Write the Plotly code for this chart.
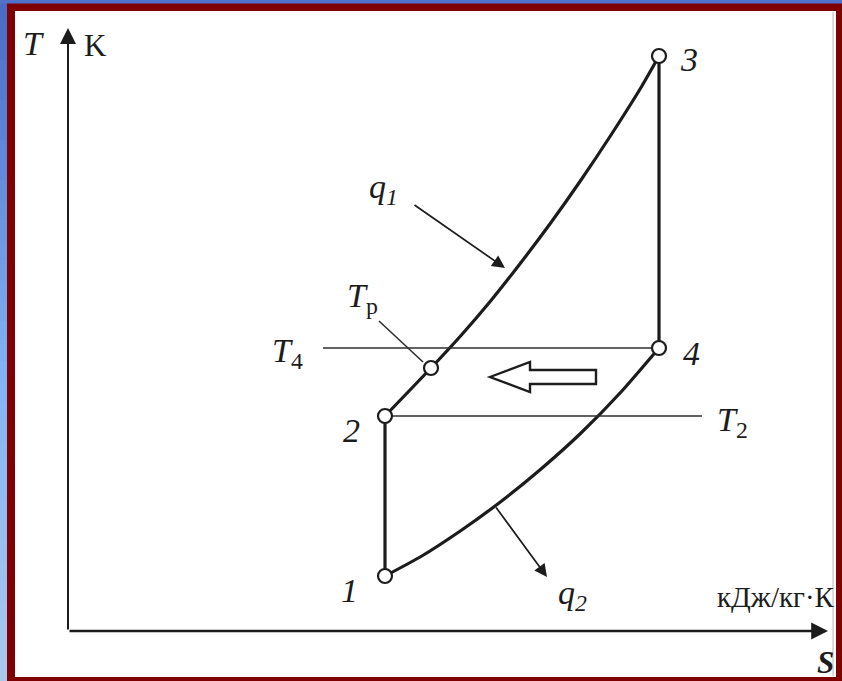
import plotly.graph_objects as go

# ---- figure geometry (pixels) ----
W, H = 842, 681
PLOT_L, PLOT_R, PLOT_T, PLOT_B = 68, 828, 28, 631

# ---- axis ranges: entropy s, kJ/(kg·K) and temperature T, K (schematic) ----
s_range = [5.415, 9.215]
T_range = [190, 1396]

# ---- cycle state points ----
state_names = ["1", "2", "Tp", "3", "4"]
state_s = [7.00, 7.00, 7.23, 8.37, 8.37]
state_T = [300, 620, 716, 1340, 756]

# compression 1-2 (isentropic)
comp_s = [7.00, 7.00]
comp_T = [300, 620]
# heat supply 2-Tp-3 along the high-pressure isobar
heat_s = [7.00, 7.23, 7.38, 7.53, 7.68, 7.83, 7.98, 8.13, 8.28, 8.37]
heat_T = [620, 716, 781, 851, 927, 1007, 1092, 1182, 1277, 1340]
# expansion 3-4 (isentropic)
exp_s = [8.37, 8.37]
exp_T = [1340, 756]
# heat rejection 4-1 along the low-pressure isobar
rej_s = [8.37, 8.18, 7.98, 7.78, 7.58, 7.38, 7.18, 7.00]
rej_T = [756, 668, 586, 514, 449, 391, 339, 300]

# isotherms T4 and T2
iso4_s = [6.69, 8.37]
iso4_T = [756, 756]
iso2_s = [7.00, 8.585]
iso2_T = [620, 620]

# leader from the Tp label to the point
lead_s = [6.97, 7.19]
lead_T = [810, 728]

# heat-flow arrows q1 and q2 (tail -> head)
q1_s = [7.14, 7.60]
q1_T = [1044, 916]
q2_s = [7.55, 7.81]
q2_T = [440, 298]

# regeneration arrow (hollow, pointing to lower s)
regen_tip = (7.525, 698)
regen_head_back = 7.725
regen_tail = 8.055
regen_head_half = 30
regen_shaft_half = 14

INK = "#1c1c1c"
THIN = "#2e2e2e"
SERIF = "Liberation Serif"
LABEL_SIZE = 34


def px(x):
    return (x - PLOT_L) / (PLOT_R - PLOT_L)


def py(y):
    return (PLOT_B - y) / (PLOT_B - PLOT_T)


fig = go.Figure()

# cycle branches
for xs, ys, shape in [(comp_s, comp_T, "linear"), (heat_s, heat_T, "spline"),
                      (exp_s, exp_T, "linear"), (rej_s, rej_T, "spline")]:
    fig.add_trace(go.Scatter(x=xs, y=ys, mode="lines",
                             line=dict(color=INK, width=3.2, shape=shape, smoothing=0.6),
                             hoverinfo="skip", showlegend=False))

# isotherms and leader
for xs, ys in [(iso4_s, iso4_T), (iso2_s, iso2_T), (lead_s, lead_T)]:
    fig.add_trace(go.Scatter(x=xs, y=ys, mode="lines",
                             line=dict(color=THIN, width=1.6),
                             hoverinfo="skip", showlegend=False))

# state points
fig.add_trace(go.Scatter(x=state_s, y=state_T, mode="markers",
                         marker=dict(symbol="circle", size=14, color="white",
                                     line=dict(color=INK, width=2.2)),
                         text=state_names, hoverinfo="text", showlegend=False))

# ---- background frame ----
shapes = []
# left blue strip with vertical gradient
blue_top = (74, 108, 196)
blue_mid = (128, 180, 246)
blue_bot = (170, 200, 238)
n = 34
for i in range(n):
    f = i / (n - 1)
    if f < 0.55:
        g = f / 0.55
        c = [int(blue_top[k] + (blue_mid[k] - blue_top[k]) * g) for k in range(3)]
    else:
        g = (f - 0.55) / 0.45
        c = [int(blue_mid[k] + (blue_bot[k] - blue_mid[k]) * g) for k in range(3)]
    y0 = H * i / n
    y1 = H * (i + 1) / n + 1
    shapes.append(dict(type="rect", xref="paper", yref="paper",
                       x0=px(0), x1=px(7), y0=py(y1), y1=py(y0),
                       fillcolor="rgb(%d,%d,%d)" % tuple(c), line=dict(width=0),
                       layer="below"))
# top blue strip
shapes.append(dict(type="rect", xref="paper", yref="paper",
                   x0=px(0), x1=px(W), y0=py(3.5), y1=py(0),
                   fillcolor="rgb(80,114,200)", line=dict(width=0), layer="below"))
# white sheet inside the red frame
shapes.append(dict(type="rect", xref="paper", yref="paper",
                   x0=px(15), x1=px(836), y0=py(677), y1=py(11),
                   fillcolor="white", line=dict(width=0), layer="below"))
# faint page edge on the right
shapes.append(dict(type="line", xref="paper", yref="paper",
                   x0=px(833), x1=px(833), y0=py(676), y1=py(12),
                   line=dict(color="#cfcfcf", width=1.5), layer="below"))

# hollow regeneration arrow
tx, tT = regen_tip
path = (f"M {tx},{tT} "
        f"L {regen_head_back},{tT + regen_head_half} "
        f"L {regen_head_back},{tT + regen_shaft_half} "
        f"L {regen_tail},{tT + regen_shaft_half} "
        f"L {regen_tail},{tT - regen_shaft_half} "
        f"L {regen_head_back},{tT - regen_shaft_half} "
        f"L {regen_head_back},{tT - regen_head_half} Z")
shapes.append(dict(type="path", xref="x", yref="y", path=path,
                   line=dict(color=INK, width=2.4), fillcolor="rgba(0,0,0,0)"))

annotations = []

# axes drawn as arrows
annotations.append(dict(x=s_range[0], y=T_range[1], ax=s_range[0], ay=T_range[0],
                        xref="x", yref="y", axref="x", ayref="y", text="",
                        showarrow=True, arrowhead=2, arrowsize=1.6, arrowwidth=2,
                        arrowcolor=INK))
annotations.append(dict(x=s_range[1], y=T_range[0], ax=s_range[0], ay=T_range[0],
                        xref="x", yref="y", axref="x", ayref="y", text="",
                        showarrow=True, arrowhead=2, arrowsize=1.4, arrowwidth=2.4,
                        arrowcolor=INK))

# q1 / q2 arrows
for xs, ys in [(q1_s, q1_T), (q2_s, q2_T)]:
    annotations.append(dict(x=xs[1], y=ys[1], ax=xs[0], ay=ys[0],
                            xref="x", yref="y", axref="x", ayref="y", text="",
                            showarrow=True, arrowhead=2, arrowsize=1.5, arrowwidth=1.7,
                            arrowcolor=INK))


def paper_label(text, x, y, size, xanchor="center"):
    annotations.append(dict(text=text, x=px(x), y=py(y), xref="paper", yref="paper",
                            xanchor=xanchor, yanchor="middle", showarrow=False,
                            font=dict(family=SERIF, size=size, color=INK)))


# axis captions
paper_label("<i>T</i>", 33, 44, 34)
paper_label("K", 95, 46, 31)
paper_label("кДж/кг·К", 837, 597, 29, xanchor="right")
paper_label("<b><i>S</i></b>", 825, 662, 31)

# state point numbers
num_offsets = {"1": (-36, -14), "2": (-34, -14), "3": (30, -3), "4": (32, -5)}
for name, s, T in zip(state_names, state_s, state_T):
    if name in num_offsets:
        dx, dy = num_offsets[name]
        annotations.append(dict(text=f"<i>{name}</i>", x=s, y=T, xref="x", yref="y",
                                xshift=dx, yshift=dy, showarrow=False,
                                font=dict(family=SERIF, size=LABEL_SIZE, color=INK)))

# isotherm captions
annotations.append(dict(text="<i>T</i><sub>4</sub>", x=iso4_s[0], y=iso4_T[0],
                        xref="x", yref="y", xanchor="right", xshift=-18, yshift=-5,
                        showarrow=False, font=dict(family=SERIF, size=LABEL_SIZE, color=INK)))
annotations.append(dict(text="<i>T</i><sub>2</sub>", x=iso2_s[1], y=iso2_T[1],
                        xref="x", yref="y", xanchor="left", xshift=13, yshift=-6,
                        showarrow=False, font=dict(family=SERIF, size=LABEL_SIZE, color=INK)))
annotations.append(dict(text="<i>T</i><sub>р</sub>", x=lead_s[0], y=lead_T[0],
                        xref="x", yref="y", xanchor="center", yanchor="bottom",
                        xshift=-17, yshift=0,
                        showarrow=False, font=dict(family=SERIF, size=LABEL_SIZE, color=INK)))

# heat captions
annotations.append(dict(text="<i>q</i><sub><i>1</i></sub>", x=q1_s[0], y=q1_T[0],
                        xref="x", yref="y", xshift=-30, yshift=15,
                        showarrow=False, font=dict(family=SERIF, size=LABEL_SIZE, color=INK)))
annotations.append(dict(text="<i>q</i><sub><i>2</i></sub>", x=q2_s[1], y=q2_T[1],
                        xref="x", yref="y", xshift=25, yshift=-18,
                        showarrow=False, font=dict(family=SERIF, size=LABEL_SIZE, color=INK)))

fig.update_layout(
    width=W, height=H,
    margin=dict(l=PLOT_L, r=W - PLOT_R, t=PLOT_T, b=H - PLOT_B, pad=0),
    paper_bgcolor="#7e0000", plot_bgcolor="rgba(0,0,0,0)",
    xaxis=dict(range=s_range, visible=False, fixedrange=True),
    yaxis=dict(range=T_range, visible=False, fixedrange=True),
    shapes=shapes, annotations=annotations, showlegend=False,
)

fig.write_html("out.html")
